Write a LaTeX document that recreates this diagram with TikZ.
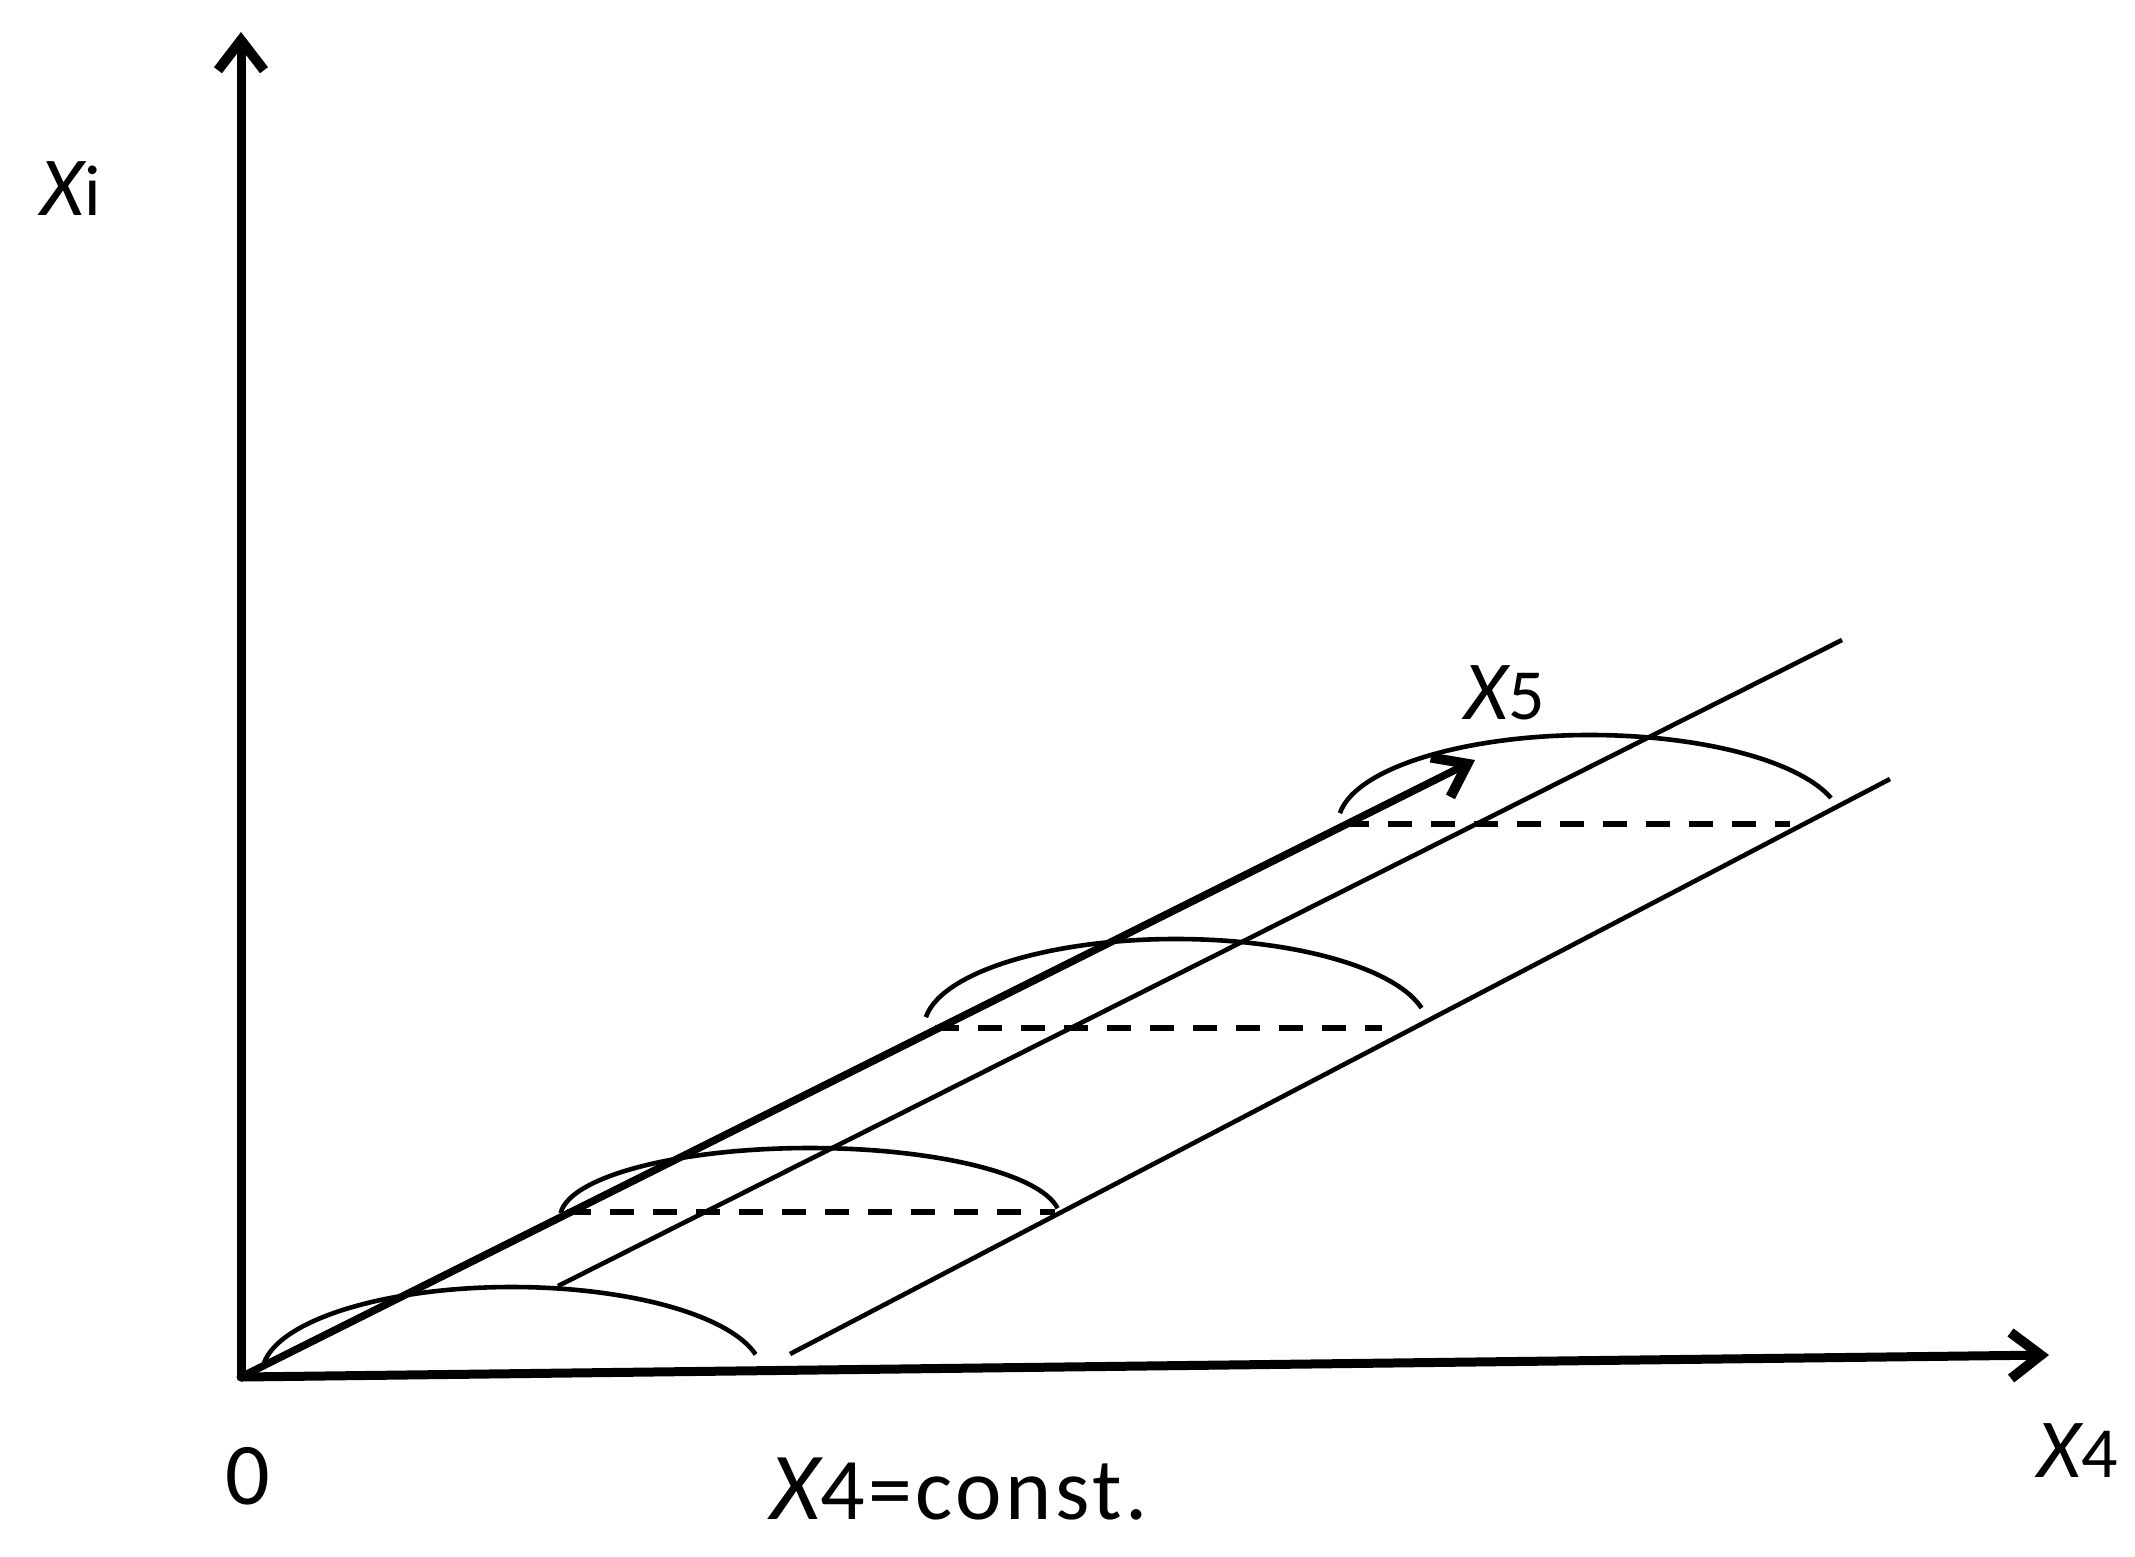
\documentclass[tikz,border=0pt]{standalone}
\usepackage{fontspec}
\setmainfont{Carlito}
\usetikzlibrary{arrows.meta}
\newcommand\axlbl[2]{{\fontsize{84}{90}\selectfont\itshape #1}{\fontsize{72}{80}\selectfont #2}}
\begin{document}
\begin{tikzpicture}[x=1pt,y=-1pt,
  axis/.style={line width=9pt,line cap=round,-{Straight Barb[length=30pt,width=46pt,line width=10pt]}},
  dirarrow/.style={line width=7.5pt,-{Straight Barb[length=30pt,width=44pt,line width=10pt]}},
  guide/.style={line width=4.6pt},
  sect/.style={line width=4.6pt},
  base/.style={line width=5.5pt,dash pattern=on 24pt off 19pt},
  lbl/.style={inner sep=0pt,anchor=base}]
\useasboundingbox (0,0) rectangle (2135,1556);
% coordinates
\coordinate (O) at (241,1377);
\coordinate (ytip) at (241,32);
\coordinate (xtip) at (2049,1355);
\coordinate (x5tip) at (1475,760);
\coordinate (m1) at (558,1286);
\coordinate (m2) at (1842,640);
\coordinate (l1) at (790,1354);
\coordinate (l2) at (1890,779);
\coordinate (d2a) at (567,1212);
\coordinate (d2b) at (1055,1212);
\coordinate (d3a) at (935,1028);
\coordinate (d3b) at (1382,1028);
\coordinate (d4a) at (1345,824);
\coordinate (d4b) at (1790,824);
% axes
\draw[axis] (O) -- (ytip);
\draw[axis] (O) -- (xtip);
% guide lines
\draw[guide] (m1) -- (m2);
\draw[guide] (l1) -- (l2);
% dashed bases
\draw[base] (d2a) -- (d2b);
\draw[base] (d3a) -- (d3b);
\draw[base] (d4a) -- (d4b);
% section arcs
\draw[sect] (512,1374) ++(-176:250 and 87) arc[start angle=-176,end angle=-13,x radius=250,y radius=87];
\draw[sect] (810,1218) ++(-176:250 and 70) arc[start angle=-176,end angle=-8,x radius=250,y radius=70];
\draw[sect] (1176,1028) ++(-173:252 and 89) arc[start angle=-173,end angle=-13,x radius=252,y radius=89];
\draw[sect] (1590,824) ++(-173:252 and 89) arc[start angle=-173,end angle=-17,x radius=252,y radius=89];
% x5 direction
\draw[dirarrow] (O) -- (x5tip);
% labels
\node[lbl] (lxi) at (71,215) {\axlbl{X}{i}};
\node[lbl] (lx4) at (2078,1477) {\axlbl{X}{4}};
\node[lbl] (lx5) at (1505,719) {\axlbl{X}{5}};
\node[lbl] (lzero) at (248,1504) {\fontsize{88}{96}\selectfont 0};
\node[lbl] (lconst) at (959,1519) {\addfontfeatures{LetterSpace=4}{\fontsize{96}{100}\selectfont\itshape X}{\fontsize{88}{96}\selectfont 4=const.}};
\end{tikzpicture}
\end{document}
